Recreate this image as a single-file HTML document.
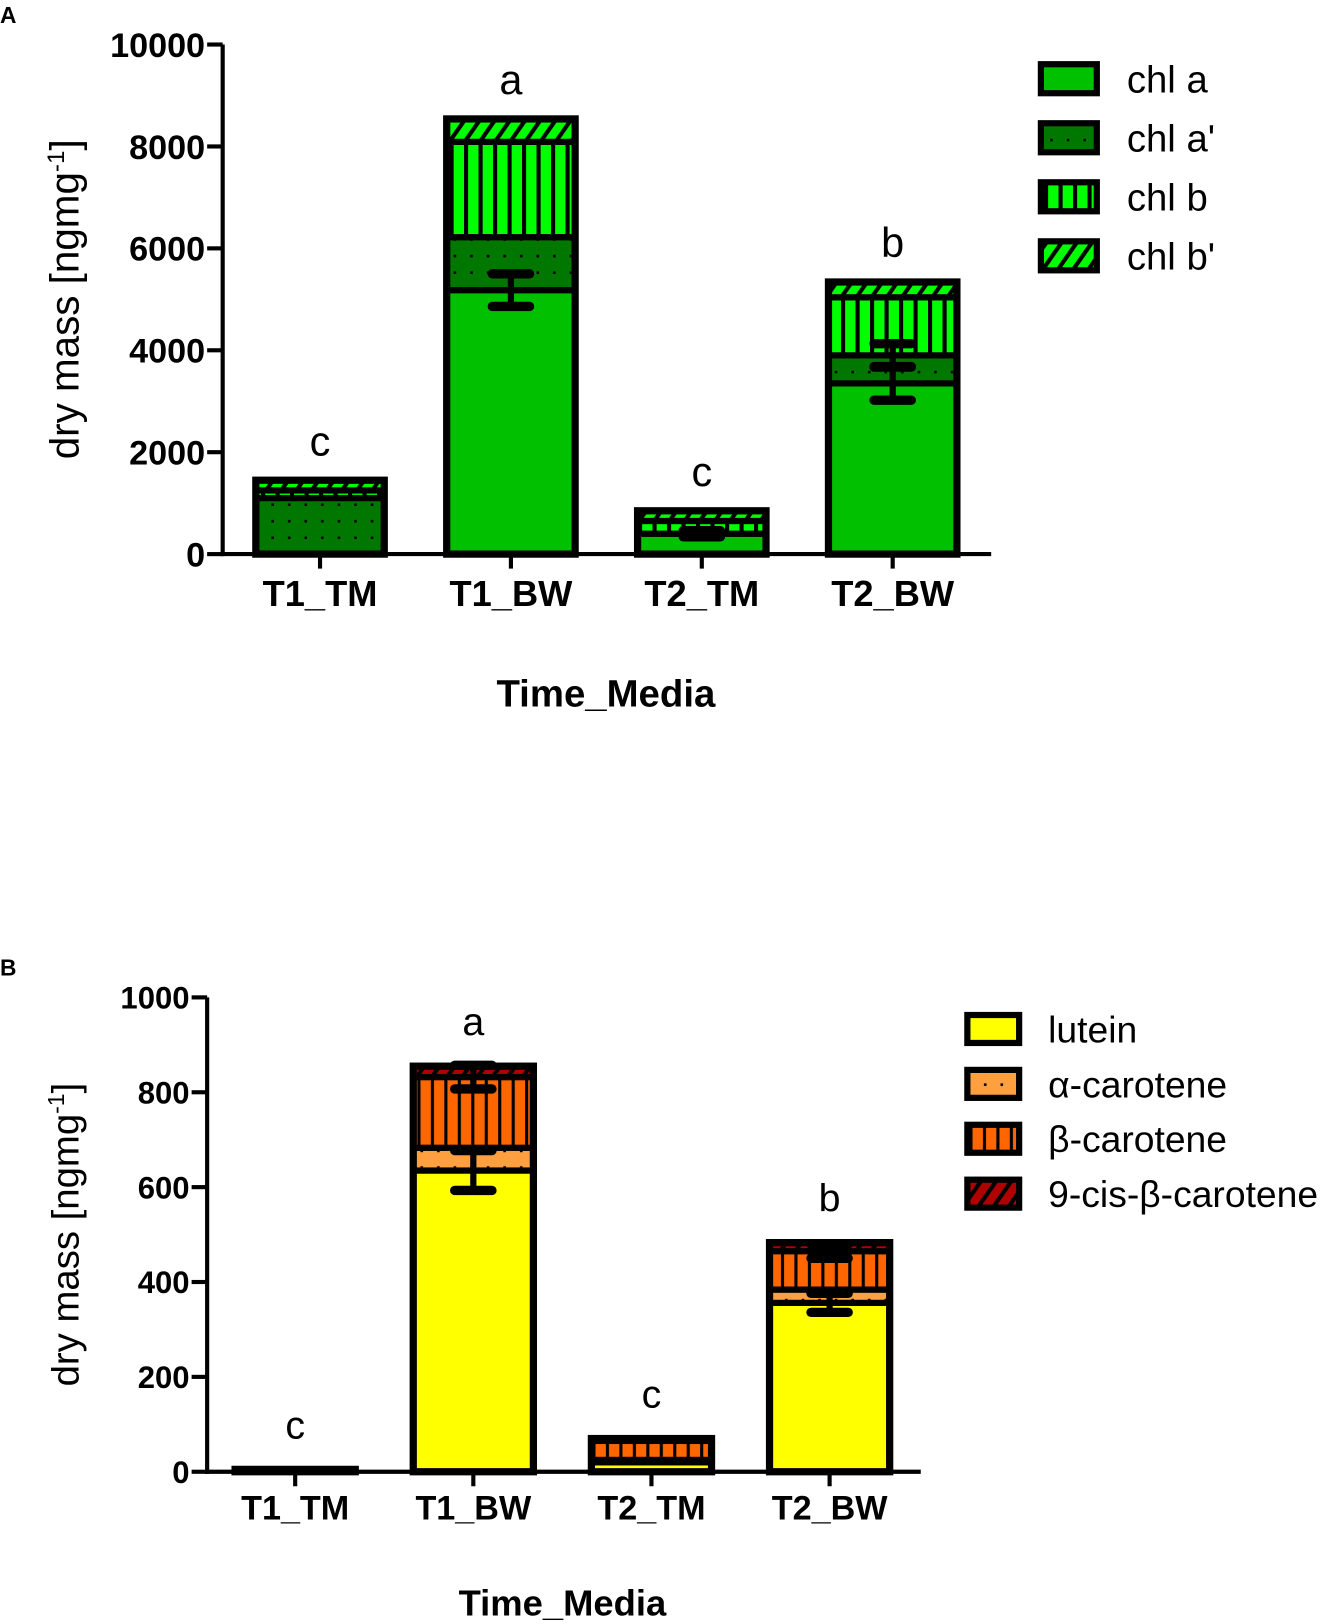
<!DOCTYPE html>
<html><head><meta charset="utf-8"><style>
html,body{margin:0;padding:0;background:#fff;}
svg{display:block;font-family:"Liberation Sans",Arial,sans-serif;}
</style></head><body>
<svg id="fig" width="1334" height="1624" viewBox="0 0 1288 1568" xmlns="http://www.w3.org/2000/svg">
<defs>
<pattern id="pDotG" width="16" height="16" patternUnits="userSpaceOnUse"><rect width="16" height="16" fill="#007800"/><rect x="6" y="6" width="2.5" height="2.5" fill="#000"/></pattern>
<pattern id="pStrG" width="14" height="10" patternUnits="userSpaceOnUse"><rect width="14" height="10" fill="#00ff00"/><rect x="0" width="4" height="10" fill="#000"/></pattern>
<pattern id="pHatG" width="12" height="12" patternUnits="userSpaceOnUse" patternTransform="rotate(35)"><rect width="12" height="12" fill="#00ff00"/><rect width="4" height="12" fill="#000"/></pattern>
<pattern id="pDotO" width="16" height="16" patternUnits="userSpaceOnUse"><rect width="16" height="16" fill="#ffa040"/><rect x="6" y="6" width="2.5" height="2.5" fill="#000"/></pattern>
<pattern id="pStrO" width="13" height="10" patternUnits="userSpaceOnUse"><rect width="13" height="10" fill="#ff6600"/><rect x="0" width="3" height="10" fill="#000"/></pattern>
<pattern id="pHatR" width="12" height="12" patternUnits="userSpaceOnUse" patternTransform="rotate(35)"><rect width="12" height="12" fill="#b00000"/><rect width="4" height="12" fill="#000"/></pattern>
</defs>
<text x="0" y="22" font-size="22" font-weight="bold">A</text>
<text x="0" y="942" font-size="22" font-weight="bold">B</text>
<g id="chartA"></g>
<g id="chartB"></g>
</svg>
<script>
const catsA = ["T1_TM","T1_BW","T2_TM","T2_BW"];
const seriesNamesA = ["chl a","chl a'","chl b","chl b'"];
const chlA = [0,5180,400,3350];
const chlAp = [1100,1040,0,550];
const chlB = [150,1870,250,1140];
const chlBp = [200,450,200,300];
const errA = [[0,0,0,0],[320,0,0,0],[60,0,0,0],[330,230,0,0]];
const lettersA = ["c","a","c","b"];
const ticksA = [0,2000,4000,6000,8000,10000];

const catsB = ["T1_TM","T1_BW","T2_TM","T2_BW"];
const seriesNamesB = ["lutein","\u03b1-carotene","\u03b2-carotene","9-cis-\u03b2-carotene"];
const lutein = [2,635,20,356];
const alphaCar = [1,48,5,28];
const betaCar = [2,149,40,81];
const cisBeta = [0,23,5,18];
const errB = [[0,0,0,0],[42,0,25,0],[0,0,0,0],[20,0,15,0]];
const lettersB = ["c","a","c","b"];
const ticksB = [0,200,400,600,800,1000];

const NS="http://www.w3.org/2000/svg";
function mk(parent,tag,attrs){const e=document.createElementNS(NS,tag);for(const k in attrs)e.setAttribute(k,attrs[k]);parent.appendChild(e);return e;}

function drawChart(g,cfg){
  const y=v=>cfg.y0-(v/cfg.max)*(cfg.y0-cfg.yTop);
  const x=i=>cfg.cx0+i*cfg.step;
  const ax=mk(g,'line',{x1:cfg.axX,y1:cfg.yTop,x2:cfg.axX,y2:cfg.y0+2,stroke:'#000','stroke-width':4});
  
  
  const xa=mk(g,'line',{x1:cfg.axX-2,y1:cfg.y0,x2:cfg.xEnd,y2:cfg.y0,stroke:'#000','stroke-width':4});
  
  
  cfg.ticks.forEach(t=>{
    mk(g,'line',{x1:cfg.axX-15,y1:y(t),x2:cfg.axX,y2:y(t),stroke:'#000','stroke-width':4});
    const tl=mk(g,'text',{x:cfg.axX-17,y:y(t)+cfg.tickFs*0.36,'font-size':cfg.tickFs,'font-weight':'bold','text-anchor':'end'});
    tl.textContent=t;
    
    
  });
  const yt=mk(g,'text',{x:0,y:0,'font-size':cfg.titleFs,'text-anchor':'middle',transform:`translate(${cfg.yTitleX},${cfg.yTitleY}) rotate(-90)`});
  yt.innerHTML='dry mass [ngmg<tspan dy="-14" font-size="'+(cfg.titleFs*0.6)+'">-1</tspan><tspan dy="14">]</tspan>';
  
  
  const xt=mk(g,'text',{x:cfg.xTitleX,y:cfg.xTitleY,'font-size':cfg.titleFs*0.95,'font-weight':'bold','text-anchor':'middle'});
  xt.textContent='Time_Media';
  
  
  cfg.cats.forEach((c,i)=>{
    const cx=x(i);
    mk(g,'line',{x1:cx,y1:cfg.y0,x2:cx,y2:cfg.y0+14,stroke:'#000','stroke-width':4});
    const cl=mk(g,'text',{x:cx,y:cfg.y0+cfg.catDy,'font-size':cfg.catFs,'font-weight':'bold','text-anchor':'middle'});
    cl.textContent=c;
    
    
    let cum=0;const tops=[];
    const bg=mk(g,'g',{});
    
    
    cfg.series.forEach((s,k)=>{
      const v=s[i];const b=cum;cum+=v;tops.push(cum);
      if(v<=0)return;
      const r=mk(bg,'rect',{x:cx-cfg.bw/2,y:y(cum),width:cfg.bw,height:y(b)-y(cum),fill:cfg.fills[k],stroke:'#000','stroke-width':6});
      
      
    });
    mk(bg,'rect',{x:cx-cfg.bw/2,y:y(cum),width:cfg.bw,height:y(0)-y(cum),fill:'none',stroke:'#000','stroke-width':7});
    cfg.err[i].forEach((e,k)=>{
      if(e<=0)return;
      const t=tops[k];
      const eg=mk(bg,'g',{stroke:'#000','stroke-width':6,'stroke-linecap':'round'});
      
      
      mk(eg,'line',{x1:cx,y1:y(t-e),x2:cx,y2:y(t+e)});
      mk(eg,'line',{x1:cx-18,y1:y(t-e),x2:cx+18,y2:y(t-e),'stroke-width':9});
      mk(eg,'line',{x1:cx-18,y1:y(t+e),x2:cx+18,y2:y(t+e),'stroke-width':9});
    });
    const lt=mk(g,'text',{x:cx,y:y(cum)-cfg.letterDy,'font-size':cfg.letterFs,'text-anchor':'middle'});
    lt.textContent=cfg.letters[i];
    
    
  });
  cfg.names.forEach((n,k)=>{
    const ly=cfg.legY+k*cfg.legStep;
    const le=mk(g,'g',{});
    
    
    mk(le,'rect',{x:cfg.legX,y:ly,width:cfg.legW,height:cfg.legH,fill:cfg.fills[k],stroke:'#000','stroke-width':6});
    const tx=mk(le,'text',{x:cfg.legTx,y:ly+cfg.legH*0.5+cfg.legFs*0.36,'font-size':cfg.legFs});
    tx.textContent=n;
  });
}

drawChart(document.getElementById('chartA'),{
  y0:535,yTop:43,max:10000,axX:215,xEnd:957,cx0:309,step:184.3,bw:124,
  ticks:ticksA,tickFs:33,titleFs:39,yTitleX:76,yTitleY:289,xTitleX:585,xTitleY:682,
  cats:catsA,catFs:35,catDy:50,
  series:[chlA,chlAp,chlB,chlBp],fills:['#00c000','url(#pDotG)','url(#pStrG)','url(#pHatG)'],
  names:seriesNamesA,err:errA,letters:lettersA,letterDy:24,letterFs:40,
  legX:1005,legY:62,legStep:57,legW:54,legH:28,legTx:1088,legFs:37
});
drawChart(document.getElementById('chartB'),{
  y0:1421,yTop:963,max:1000,axX:200,xEnd:889,cx0:285,step:172,bw:116,
  ticks:ticksB,tickFs:30,titleFs:37,yTitleX:76,yTitleY:1192,xTitleX:543,xTitleY:1560,
  cats:catsB,catFs:33,catDy:46,
  series:[lutein,alphaCar,betaCar,cisBeta],fills:['#ffff00','url(#pDotO)','url(#pStrO)','url(#pHatR)'],
  names:seriesNamesB,err:errB,letters:lettersB,letterDy:30,letterFs:38,
  legX:934,legY:980,legStep:53,legW:50,legH:27,legTx:1012,legFs:36
});
</script>
</body></html>
